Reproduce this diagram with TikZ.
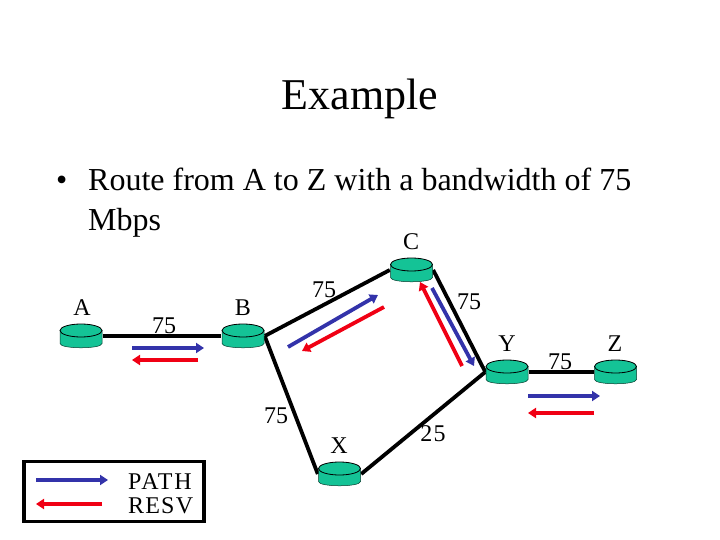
\documentclass[tikz,border=0pt]{standalone}
\usepackage{fontspec}
\setmainfont{Liberation Serif}
\usetikzlibrary{arrows.meta}
\definecolor{pathblue}{RGB}{51,51,170}
\definecolor{resvred}{RGB}{240,0,20}
\definecolor{routergreen}{RGB}{20,195,150}
\tikzset{
  x=1pt,y=-1pt,
  routerbox/.style={inner sep=0pt,minimum width=43pt,minimum height=24pt},
  link/.style={line width=3.8pt,black},
  patharrow/.style={line width=3.8pt,pathblue,-{Triangle[length=8pt,width=10pt]}},
  resvarrow/.style={line width=3.8pt,resvred,-{Triangle[length=8pt,width=10pt]}},
  lbl/.style={inner sep=0pt,font=\fontsize{24}{24}\selectfont,anchor=base},
  router/.pic={
    \filldraw[fill=routergreen,draw=black!70!routergreen,line width=0.5pt] (-21,-6) -- (-21,7.5) .. controls (-21,13.2) and (21,13.2) .. (21,7.5) -- (21,-6) -- cycle;
    \filldraw[fill=routergreen,draw=black,line width=0.8pt] (0,-5.5) ellipse[x radius=21,y radius=6.5];
  }
}
\begin{document}
\begin{tikzpicture}
\useasboundingbox (0,0) rectangle (720,540);
\fill[white] (0,0) rectangle (720,540);
\node[routerbox] (A) at (81,336) {};
\node[routerbox] (B) at (243,336) {};
\node[routerbox] (C) at (411.5,270) {};
\node[routerbox] (Y) at (507,372) {};
\node[routerbox] (Z) at (615.5,372) {};
\node[routerbox] (X) at (339.5,474) {};
\draw[link] (A.east) -- (B.west);
\draw[link] (B.east) -- (C.west);
\draw[link] (C.east) -- (Y.west);
\draw[link] (Y.east) -- (Z.west);
\draw[link] (B.east) -- (X.west);
\draw[link] (Y.west) -- (X.east);
\pic at (A) {router};
\pic at (B) {router};
\pic at (C) {router};
\pic at (Y) {router};
\pic at (Z) {router};
\pic at (X) {router};
\node[inner sep=0pt,anchor=base,font=\fontsize{44}{44}\selectfont] (title) at (360,110) {Example};
\node[inner sep=0pt,anchor=base west,font=\fontsize{32}{32}\selectfont] (bullet) at (56,191) {•};
\node[inner sep=0pt,anchor=base west,font=\fontsize{32}{32}\selectfont] (line1) at (88,191) {Route from A to Z with a bandwidth of 75};
\node[inner sep=0pt,anchor=base west,font=\fontsize{32}{32}\selectfont] (line2) at (88,230) {Mbps};
\node[lbl] (lA) at (82,315) {A};
\node[lbl] (lB) at (243,315) {B};
\node[lbl] (lC) at (411,249) {C};
\node[lbl] (lY) at (507,351) {Y};
\node[lbl] (lZ) at (615,351) {Z};
\node[lbl] (lX) at (339,453) {X};
\node[lbl] (n1) at (164,333) {75};
\node[lbl] (n2) at (324,297) {75};
\node[lbl] (n3) at (469,309) {75};
\node[lbl] (n4) at (560,369) {75};
\node[lbl] (n5) at (276,423) {75};
\node[lbl] (n6) at (433,441) {\addfontfeature{LetterSpace=6}25};
\coordinate (a1) at (132,348); \coordinate (a2) at (204,348);
\coordinate (a3) at (198,360); \coordinate (a4) at (132,360);
\coordinate (b1) at (288,347); \coordinate (b2) at (378,295);
\coordinate (b3) at (384,307); \coordinate (b4) at (302,351);
\coordinate (c1) at (432,288); \coordinate (c2) at (474,366);
\coordinate (c3) at (462,366); \coordinate (c4) at (420,282);
\coordinate (d1) at (528,396); \coordinate (d2) at (600,396);
\coordinate (d3) at (594,413); \coordinate (d4) at (528,413);
\draw[patharrow] (a1) -- (a2);
\draw[resvarrow] (a3) -- (a4);
\draw[patharrow] (b1) -- (b2);
\draw[resvarrow] (b3) -- (b4);
\draw[patharrow] (c1) -- (c2);
\draw[resvarrow] (c3) -- (c4);
\draw[patharrow] (d1) -- (d2);
\draw[resvarrow] (d3) -- (d4);
\node[draw=black,line width=3.8pt,inner sep=0pt,minimum width=180pt,minimum height=60pt] (legend) at (114.2,491.5) {};
\coordinate (e1) at (36,480); \coordinate (e2) at (108,480);
\coordinate (e3) at (102,504); \coordinate (e4) at (36,504);
\draw[patharrow] (e1) -- (e2);
\draw[resvarrow] (e3) -- (e4);
\node[lbl,anchor=base west] (lpath) at (128,489) {\addfontfeature{LetterSpace=8}PATH};
\node[lbl,anchor=base west] (lresv) at (128,513) {\addfontfeature{LetterSpace=5}RESV};
\end{tikzpicture}
\end{document}
